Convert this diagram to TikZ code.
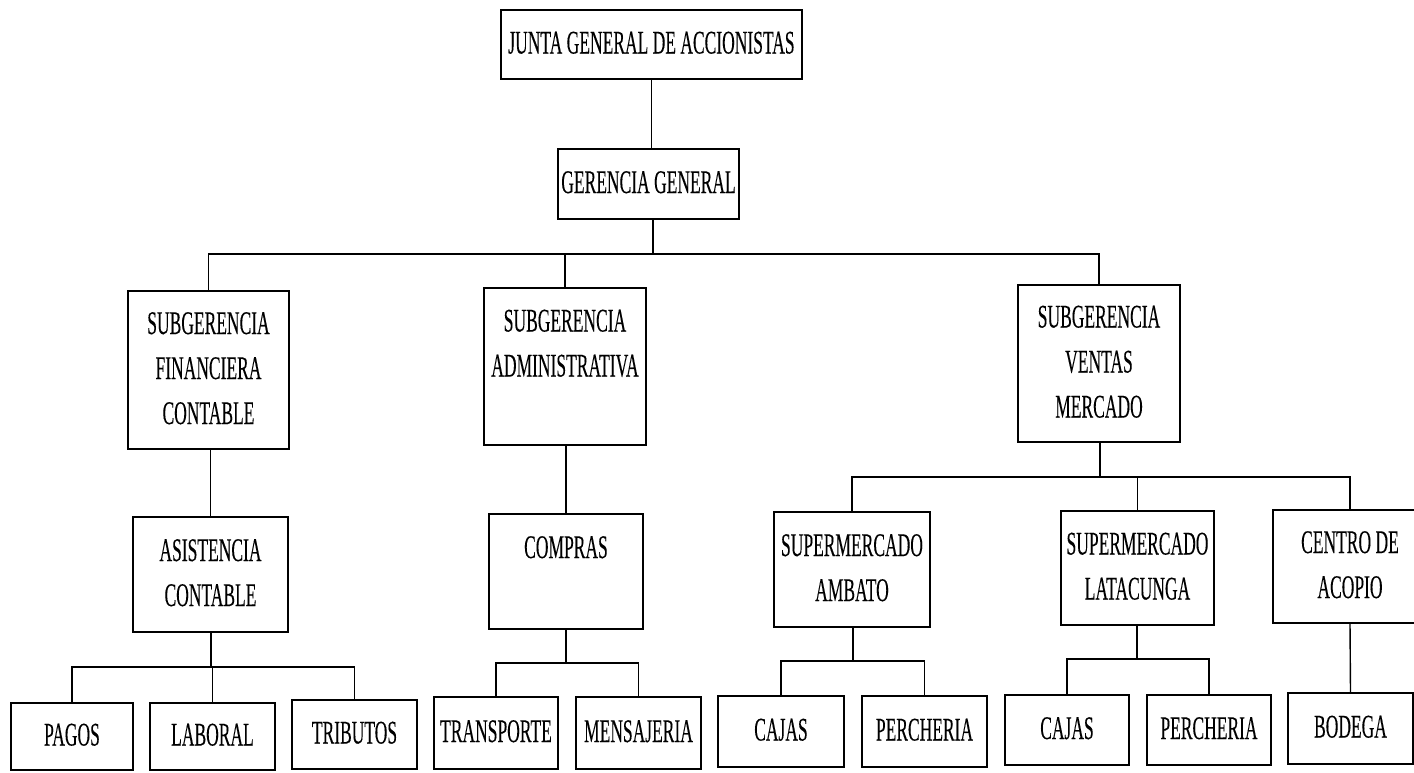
\documentclass[tikz,border=0pt]{standalone}
\usepackage{fontspec}
\setmainfont{Liberation Serif}[UprightFeatures={FakeBold=0.25}]
\usepackage{graphicx}
\newcommand\sqz[1]{\scalebox{0.53}[1]{\begin{tabular}{@{}c@{}}#1\end{tabular}}}
\begin{document}
\begin{tikzpicture}[x=1pt,y=-1pt,
  orgbox/.style={draw=black, line width=1.7pt, fill=white, inner sep=0pt, align=center,
    font=\fontsize{33}{45}\selectfont},
  lbl/.style={inner sep=0pt, font=\fontsize{33}{45}\selectfont},
  conn/.style={draw=black, line width=1.4pt}]
\useasboundingbox (0,0) rectangle (1414,772);
\fill[white] (0,0) rectangle (1414,772);
\clip (0,0) rectangle (1414,772);

% level 0-1
\node[orgbox, minimum width=301pt, minimum height=69pt] (jga) at (651.5,44.5) {\sqz{JUNTA GENERAL DE ACCIONISTAS}};
\node[orgbox, minimum width=181pt, minimum height=70pt] (gg) at (648.5,184) {\sqz{GERENCIA GENERAL}};

% level 2
\node[orgbox, minimum width=161pt, minimum height=158pt] (sfc) at (208.5,370) {\sqz{SUBGERENCIA\\FINANCIERA\\CONTABLE}};
\node[orgbox, minimum width=162pt, minimum height=157pt] (sa) at (565,366.5) {};
\node[lbl] (sa-t) at (565,345) {\sqz{SUBGERENCIA\\ADMINISTRATIVA}};
\node[orgbox, minimum width=162pt, minimum height=157pt] (svm) at (1099,363.5) {\sqz{SUBGERENCIA\\VENTAS\\MERCADO}};

% level 3
\node[orgbox, minimum width=155pt, minimum height=115pt] (ac) at (210.5,574.5) {\sqz{ASISTENCIA\\CONTABLE}};
\node[orgbox, minimum width=154pt, minimum height=115pt] (co) at (566,571.5) {};
\node[lbl] (co-t) at (566,549) {\sqz{COMPRAS}};
\node[orgbox, minimum width=156pt, minimum height=115pt] (sam) at (852,569.5) {\sqz{SUPERMERCADO\\AMBATO}};
\node[orgbox, minimum width=153pt, minimum height=114pt] (sl) at (1137.5,568) {\sqz{SUPERMERCADO\\LATACUNGA}};
\node[orgbox, minimum width=154pt, minimum height=113pt] (cda) at (1350,566.5) {\sqz{CENTRO DE\\ACOPIO}};

% level 4
\node[orgbox, minimum width=122pt, minimum height=67pt] (pagos) at (72,736.5) {\sqz{PAGOS}};
\node[orgbox, minimum width=125pt, minimum height=67pt] (laboral) at (212.5,736.5) {\sqz{LABORAL}};
\node[orgbox, minimum width=125pt, minimum height=69pt] (tributos) at (354.5,734.5) {\sqz{TRIBUTOS}};
\node[orgbox, minimum width=124pt, minimum height=72pt] (transp) at (496,733) {\sqz{TRANSPORTE}};
\node[orgbox, minimum width=125pt, minimum height=72pt] (mensa) at (638.5,733) {\sqz{MENSAJERIA}};
\node[orgbox, minimum width=126pt, minimum height=71pt] (cajas1) at (781,731.5) {\sqz{CAJAS}};
\node[orgbox, minimum width=125pt, minimum height=71pt] (perch1) at (924.5,731.5) {\sqz{PERCHERIA}};
\node[orgbox, minimum width=124pt, minimum height=70pt] (cajas2) at (1067,730) {\sqz{CAJAS}};
\node[orgbox, minimum width=124pt, minimum height=70pt] (perch2) at (1209,730) {\sqz{PERCHERIA}};
\node[orgbox, minimum width=125pt, minimum height=71pt] (bodega) at (1350.5,728.5) {\sqz{BODEGA}};

% bus junctions
\coordinate (b0) at (653,254);
\coordinate (b1) at (211,667);
\coordinate (b2) at (566,663);
\coordinate (b3) at (1100,477);
\coordinate (b4) at (853,661);
\coordinate (b5) at (1137,659);

% connectors
\draw[conn] (jga.south) -- (jga.south |- gg.north);
\draw[conn] (gg.south -| b0) -- (b0);
\draw[conn] (sfc.north) |- (b0) -| (svm.north);
\draw[conn] (sa.north) -- (sa.north |- b0);

\draw[conn] (ac.north) -- (ac.north |- sfc.south);
\draw[conn] (ac.south -| b1) -- (b1);
\draw[conn] (pagos.north) |- (b1) -| (tributos.north);
\draw[conn] (laboral.north) -- (laboral.north |- b1);

\draw[conn] (co.north) -- (co.north |- sa.south);
\draw[conn] (co.south) -- (b2);
\draw[conn] (transp.north) |- (b2) -| (mensa.north);

\draw[conn] (svm.south -| b3) -- (b3);
\draw[conn] (sam.north) |- (b3) -| (cda.north);
\draw[conn] (sl.north) -- (sl.north |- b3);

\draw[conn] (sam.south -| b4) -- (b4);
\draw[conn] (cajas1.north) |- (b4) -| (perch1.north);

\draw[conn] (sl.south -| b5) -- (b5);
\draw[conn] (cajas2.north) |- (b5) -| (perch2.north);

\draw[conn] (cda.south) -- (bodega.north);
\end{tikzpicture}
\end{document}
